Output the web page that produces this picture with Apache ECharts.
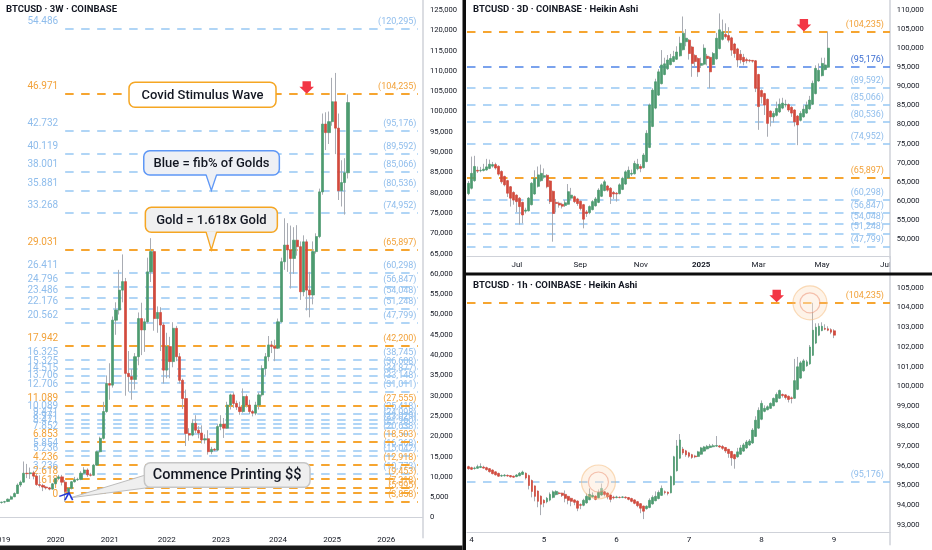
<!DOCTYPE html>
<html><head><meta charset="utf-8">
<script src="https://cdn.jsdelivr.net/npm/echarts@6/dist/echarts.min.js"></script>
<style>html,body{margin:0;padding:0;background:#fff}#c{width:932px;height:550px}</style>
</head><body><div id="c"></div>
<script>
// ---------- LEFT: BTCUSD 3W (open, close, low, high) ----------
const leftCandles = [
[3700,3800,3400,3900],[3800,3900,3500,4100],[3950,4500,3800,4700],[4500,5100,4400,5400],[5100,5900,5000,6200],
[5900,8000,5800,8400],[8000,8700,7500,9100],[8700,10900,8600,13800],[10900,10800,9700,13200],[10800,11000,9500,12300],
[11000,10200,9400,11500],[10200,8100,7800,10800],[8100,7900,7400,10400],[7900,7500,6500,8300],[7500,7300,6900,7700],
[7300,7000,6700,7500],[7000,8300,6900,8500],[8300,9600,8200,9800],[9600,10000,9200,10500],[10000,8700,7900,10500],
[8700,6400,3858,9200],[6400,7200,6200,7500],[7200,8800,6900,9000],[8800,9300,8600,10000],[9300,9400,9000,9800],
[9400,10900,9200,11400],[10900,11700,10600,12400],[11700,10500,10000,12100],[10500,10400,10100,11000],[10400,12900,10300,13200],
[12900,16200,12700,16500],[16200,19500,16000,19900],[19500,26100,19200,28500],[26100,33000,25800,35000],[33000,32600,29000,38000],
[32600,48600,32000,49500],[48600,51100,45000,53000],[51100,56000,50000,61000],[56000,58100,53000,64800],[58100,35500,30000,59000],
[35500,34700,31000,41000],[34700,34000,29000,36500],[34000,39600,31500,40500],[39600,49000,37500,50500],[49000,46200,40000,52900],
[46200,48200,40800,49000],[48200,60500,47800,64000],[60500,65500,58000,68800],[65500,49000,46000,66000],[49000,50500,45500,52000],
[50500,47400,41000,51800],[47400,36300,33000,48000],[36300,42100,34300,45500],[42100,38400,34300,44500],[38400,46600,37000,48100],
[46600,39600,38500,47200],[39600,33800,33000,40500],[33800,29300,26700,34200],[29300,20700,17600,31500],[20700,20300,18900,22000],
[20300,23200,20000,24200],[23200,21500,20800,25200],[21500,20800,19500,22500],[20800,19100,18200,22700],[19100,19400,18200,20500],
[19400,16200,15500,21500],[16200,16800,15600,17400],[16800,16600,16300,17100],[16600,22400,16400,23000],[22400,23000,21500,25200],
[23000,22000,19600,24500],[22000,27700,21800,28500],[27700,30200,26600,30500],[30200,28100,27000,30800],[28100,27200,26500,28800],
[27200,26100,25300,28500],[26100,29800,25800,31800],[29800,27700,27100,30300],[27700,26100,25500,29000],[26100,25700,24900,26500],
[25700,27700,25200,28500],[27700,30200,26600,30800],[30200,36700,29800,37500],[36700,39600,35000,40500],[39600,42500,38500,44700],
[42500,42100,40500,43500],[42100,41700,38500,43800],[41700,48200,41500,49000],[48200,63000,48000,64000],[63000,67100,61000,73700],
[67100,65900,60500,72500],[65900,63800,56400,71900],[63800,68300,60000,71500],[68300,66700,64500,72000],[66700,55600,53600,68000],
[55600,67900,54500,69500],[67900,56000,51000,68500],[56000,54800,49300,60500],[54800,65500,52500,68000],[65500,69200,65000,70000],
[69200,80200,68800,81000],[80200,96900,79500,99500],[96900,94800,90500,99800],[94800,97500,92000,100000],[97500,102400,96500,108300],
[102400,95900,89500,109500],[95900,80500,78200,99500],[80500,82500,76600,88000],[82500,84900,74600,88500],[84900,102200,83500,104200]
];
const leftSlots = 133;
const leftTickIdx = [0,17,34,52,69,87,104,121];
const leftTickText = ['2019','2020','2021','2022','2023','2024','2025','2026'];
const leftGoldRatios = ['0','1','1.618','2.618','4.236','6.853','11.089','17.942','29.031','46.971'];
const leftGoldPrices = [3858,5995,7318,9453,12918,18503,27555,42200,65897,104235];
const leftBlueRatios = ['3.236','5.236','5.854','7.852','8.471','8.971','9.471','10.089','12.706','13.706','14.515','15.325','16.325','20.562','22.176','23.486','24.796','26.411','33.268','35.881','38.001','40.119','42.732','54.486'];
const leftBluePrices = [10773,15042,16368,20638,21960,23029,24098,25418,31011,33148,34877,36608,38745,47799,51248,54048,56847,60298,74952,80536,85066,89592,95176,120295];

// ---------- TOP RIGHT: BTCUSD 3D Heikin Ashi ----------
const trCandles = [
[61900,64600,61500,65200],[63300,67200,63000,71600],[65300,69000,65000,71800],[68000,67800,67300,69000],[67900,68000,67500,68900],
[67950,68300,67700,69700],[68100,68900,67900,71000],[68500,69600,68300,70800],[69100,69500,68700,70200],[69500,68600,68200,70000],
[69050,67000,66600,69300],[67700,65000,64500,68000],[66400,64200,63800,66600],[65300,62000,61000,65500],[63700,60700,58500,63900],
[62200,60200,59000,62500],[61500,59800,57000,61700],[60700,58500,53800,61000],[59600,56300,54100,59800],[57300,57600,56700,58200],
[57400,60700,57200,61000],[59000,64600,58800,64900],[61800,65900,61600,68000],[63800,66800,63500,69000],[65300,67200,65000,69500],
[66200,66600,65800,68500],[66700,63700,63300,67000],[65200,59800,59200,65400],[62500,56700,49300,62700],[59600,59300,57000,60500],
[59400,58900,58200,59800],[59100,58600,58000,59500],[58800,59500,58400,60200],[59100,62400,59000,64400],[60700,61500,60200,63400],
[61100,59800,59400,61400],[60500,59300,58700,60800],[59900,58000,57500,60100],[59000,55200,52800,59200],[57100,56700,55800,57600],
[56900,58500,56500,58800],[57700,59800,57500,60200],[58700,60500,58500,61000],[59600,62800,59400,63300],[61200,64200,61000,64600],
[62700,65000,62500,65500],[63900,62800,62400,64200],[63300,61100,59200,63600],[62200,61800,60500,62600],[62000,61800,59800,62300],
[61900,64200,61700,64600],[63000,65900,62800,66300],[64400,67600,64200,68000],[66000,68000,65800,69000],[67000,67200,66500,68200],
[67100,69800,66900,70500],[68400,69600,68000,71000],[69000,68500,67500,69600],[68700,72000,68500,72500],[70300,77700,70100,78500],
[74000,85100,73800,85500],[79500,89000,79300,89500],[84300,91200,84000,92000],[87700,93800,87500,94500],[90700,95600,90500,99500],
[93100,95900,92900,97500],[94600,96900,94300,98200],[95700,97300,95500,98500],[96500,97800,96300,99300],[97100,99000,96900,100500],
[98000,101300,97800,103000],[99600,103900,99400,108300],[101700,102600,100500,105000],[102100,98600,97000,102400],[100300,96000,92500,100600],
[98100,96500,95000,98400],[97300,93800,92500,97600],[95500,96000,94800,97500],[95800,100000,95500,101000],[97900,97300,95500,98500],
[97600,93800,89500,97900],[95700,98600,95500,99000],[97200,102600,97000,104000],[99900,104800,99700,109100],[102300,104300,102000,107500],
[103600,103000,102500,106500],[103300,102100,101500,105500],[102700,99500,98000,103000],[101100,98600,97500,101400],[99800,96900,95000,100100],
[98400,96900,96000,99500],[97600,96500,95500,98500],[97000,96700,96000,97500],[96850,96700,96300,97100],[96800,96600,96200,96900],
[96700,89500,88500,96900],[93100,84700,78600,93300],[88900,87300,85500,89200],[88100,85100,82500,88300],[86600,80300,76800,86800],
[83500,82000,79500,83700],[82000,82900,80500,83500],[82400,84200,82100,86000],[83300,85300,83000,86800],[84300,85600,84000,87000],
[85100,85300,84500,86500],[85200,83800,83300,85500],[84500,83000,82000,84800],[83800,80700,79500,84000],[82200,79900,74600,82500],
[81100,82900,80800,83500],[82000,84000,81800,85000],[83000,85100,82800,86000],[84100,86400,83900,87500],[85300,90800,85100,91500],
[88100,94700,87900,95500],[91400,94200,91200,96000],[92800,96000,92600,97500],[94400,95600,94200,97500],[95000,100000,94800,104300]
];
const trSlots = 140;
const trTickIdx = [16,37,57,77,96,117,138];
const trTickText = ['Jul','Sep','Nov','2025','Mar','May','Jul'];
const trGoldPrices = [104235,65897];
const trKeyPrices = [95176];
const trBluePrices = [89592,85066,80536,74952,60298,56847,54048,51248,47799];

// ---------- BOTTOM RIGHT: BTCUSD 1h Heikin Ashi ----------
const brCandles = [
[95950,95850,95800,96000],[95900,95820,95780,95950],[95860,95880,95800,95950],[95870,95950,95850,96050],[95910,95960,95880,96120],
[95930,95880,95850,96000],[95900,95800,95750,95950],[95850,95700,95650,95880],[95780,95600,95560,95820],[95690,95540,95500,95720],
[95610,95470,95440,95650],[95480,95500,95430,95560],[95490,95520,95450,95580],[95510,95480,95440,95560],[95500,95440,95400,95530],
[95470,95420,95380,95500],[95450,95530,95420,95580],[95490,95620,95470,95680],[95560,95680,95540,95750],[95620,95380,95300,95660],
[95500,95000,94800,95550],[95250,94700,94400,95300],[94980,94450,94200,95000],[94720,94200,93900,94750],[94460,94050,93500,94500],
[94250,94120,93900,94300],[94180,94350,94100,94420],[94260,94550,94200,94650],[94400,94680,94350,94750],[94540,94700,94500,94760],
[94620,94600,94550,94680],[94610,94500,94420,94640],[94550,94350,94150,94750],[94450,94250,94050,94480],[94350,94200,93950,94380],
[94270,94150,94000,94300],[94210,93850,93700,94250],[94030,94000,93800,94100],[94000,94250,93950,94330],[94120,94450,94080,94600],
[94280,94550,94250,94850],[94420,94500,94380,94650],[94460,94300,94250,94500],[94380,94650,94350,94800],[94520,94850,94480,95100],
[94680,94550,94450,94720],[94620,94420,94300,94650],[94520,94300,94150,94550],[94410,94380,94300,94480],[94390,94420,94350,94480],
[94400,94390,94350,94450],[94400,94420,94360,94460],[94410,94380,94330,94450],[94390,94300,94250,94420],[94340,94200,94150,94380],
[94270,94100,94050,94300],[94180,93980,93900,94220],[94080,93850,93600,94100],[93960,93700,93300,93980],[93830,93950,93780,94000],
[93890,94250,93850,94350],[94070,94400,94030,94500],[94230,94450,94200,94700],[94340,94650,94300,94750],[94500,94850,94480,95000],
[94680,94650,94550,94750],[94660,94600,94500,94700],[94630,95450,94600,95500],[95040,96450,95000,96500],[95750,97000,95700,97300],
[96380,97300,96350,97600],[96840,96650,96550,96950],[96750,96550,96450,96800],[96650,96480,96400,96700],[96560,96420,96350,96600],
[96490,96450,96380,96550],[96470,96700,96440,96750],[96580,96900,96550,96950],[96740,96950,96700,97000],[96850,96980,96820,97050],
[96920,97000,96880,97100],[96960,97010,96930,97100],[96990,97020,96950,97500],[97000,96950,96900,97050],[96970,96880,96800,97050],
[96920,96750,96650,96950],[96830,96620,96400,96850],[96720,96400,96000,96750],[96560,96350,95850,96600],[96450,96700,96400,96900],
[96580,96900,96550,97050],[96740,97050,96700,97150],[96900,97200,96850,97300],[97050,97250,97000,97350],[97150,97800,97100,97900],
[97480,98300,97450,98500],[97900,98800,97850,98950],[98350,99150,98300,99300],[98750,98900,98700,99050],[98830,98980,98800,99050],
[98900,99150,98880,99200],[99030,99400,99000,99450],[99220,99600,99200,99700],[99410,99800,99380,99850],[99600,99550,99450,99650],
[99580,99450,99350,99620],[99510,99350,99200,99550],[99430,99400,99150,99500],[99410,100300,99380,101400],[99860,101000,99820,101500],
[100430,101200,100400,101300],[100800,101300,100750,101400],[101050,101250,101000,101350],[101150,102000,101100,102100],[101580,102850,101550,104235],
[102200,103000,102150,103200],[102600,103050,102550,103200],[102830,103050,102800,103250],[102940,102900,102850,103150],[102920,102850,102800,103050],
[102880,102750,102650,102950],[102820,102600,102450,102900]
];
const brSlots = 140;
const brTickIdx = [1,25,49,73,97,121];
const brTickText = ['4','5','6','7','8','9'];
const brGoldPrices = [104235];
const brBluePrices = [95176];

// annotation anchors (category index, price)
const fibStartIdx = 20, fibEndIdx = 131;
const notes = {
  covid: {text: 'Covid Stimulus Wave', at: [63, 104235]},
  blue: {text: 'Blue = fib% of Golds', at: [66, 80536]},
  gold: {text: 'Gold = 1.618x Gold', at: [66, 65897]},
  printing: {text: 'Commence Printing $$', at: [21, 3858]}
};
const startMark = [20, 3858];
const arrows = [[0, 96, 104235], [1, 111, 104235], [2, 102, 104235]];
const circles = [[2, 113, 104235], [2, 43, 95176]];

// ---------- styles ----------
const UP = '#4e9b70', DOWN = '#d24a3d', WICK = '#a9acb3';
const GOLD_LINE = '#f6a530', GOLD_TEXT = '#f2a23a';
const BLUE_LINE = '#97c7f3', BLUE_TEXT = '#8fbdec';
const KEY_LINE = '#4f84e8', KEY_TEXT = '#3d6fd2';
const AXIS_TEXT = '#131722', AXIS_LINE = '#cfd2d9';
const FONT = 'Roboto';
const fmt = v => v.toLocaleString('en-US');

function cats(n) { return Array.from({length: n}, (_, i) => String(i)); }

function candleSeries(gi, data, bodyW) {
  return [
    {type: 'candlestick', xAxisIndex: gi, yAxisIndex: gi, data: data, barWidth: 1, silent: true, z: 3,
     itemStyle: {color: WICK, color0: WICK, borderColor: WICK, borderColor0: WICK, borderWidth: 1}},
    {type: 'candlestick', xAxisIndex: gi, yAxisIndex: gi, silent: true, z: 4, barWidth: bodyW,
     data: data.map(d => [d[0], d[1], Math.min(d[0], d[1]), Math.max(d[0], d[1])]),
     itemStyle: {color: UP, color0: DOWN, borderColor: UP, borderColor0: DOWN, borderWidth: 0.7}}
  ];
}

function fibSeries(gi, prices, ratios, lineColor, textColor, lw, startIdx, endIdx, rightPad) {
  return {
    type: 'custom', xAxisIndex: gi, yAxisIndex: gi, z: 1, silent: true,
    data: prices.map(p => [startIdx == null ? 0 : startIdx, p]),
    encode: {x: 0, y: 1},
    renderItem: function (params, api) {
      const price = api.value(1);
      const cs = params.coordSys;
      const y = Math.round(api.coord([0, price])[1]);
      const x1 = startIdx == null ? cs.x : api.coord([startIdx, price])[0];
      const x2 = endIdx == null ? cs.x + cs.width : api.coord([endIdx, price])[0];
      const ch = [{type: 'line', shape: {x1: x1, y1: y, x2: x2, y2: y},
                   style: {stroke: lineColor, lineWidth: lw, lineDash: [8.5, 7.5]}},
                  {type: 'text', x: x2 - rightPad, y: y - 3,
                   style: {text: '(' + fmt(price) + ')', fill: textColor, font: '9px ' + FONT, align: 'right', verticalAlign: 'bottom'}}];
      if (ratios) ch.push({type: 'text', x: x1 - 7, y: y - 3,
                   style: {text: ratios[params.dataIndex], fill: textColor, font: '10px ' + FONT, align: 'right', verticalAlign: 'bottom'}});
      return {type: 'group', children: ch};
    }
  };
}

function xAxisCfg(gi, n, tickIdx, tickText, offset, margin) {
  return {
    type: 'category', gridIndex: gi, data: cats(n), boundaryGap: true, offset: offset,
    axisLine: {show: true, lineStyle: {color: AXIS_LINE, width: 1}},
    axisTick: {show: false}, splitLine: {show: false},
    axisLabel: {
      interval: (i) => tickIdx.indexOf(i) >= 0,
      formatter: (v, i) => { const t = tickText[tickIdx.indexOf(i)] || ''; return /^\d{4}$/.test(t) && gi === 1 ? '{b|' + t + '}' : t; },
      color: AXIS_TEXT, fontSize: 8, margin: margin, fontFamily: FONT,
      rich: {b: {fontWeight: 'bold', fontSize: 8, color: AXIS_TEXT, fontFamily: FONT}}
    }
  };
}

function yAxisCfg(gi, min, max, step, lo, hi, margin) {
  return {
    type: 'value', gridIndex: gi, position: 'right', min: min, max: max, interval: step,
    axisLine: {show: true, lineStyle: {color: AXIS_LINE, width: 1.5}},
    axisTick: {show: false}, splitLine: {show: false},
    axisLabel: {formatter: v => (v >= lo && v <= hi) ? fmt(v) : '', color: AXIS_TEXT, fontSize: 7.6, margin: margin, fontFamily: FONT}
  };
}

const chart = echarts.init(document.getElementById('c'), null, {renderer: 'canvas'});
const option = {
  animation: false,
  backgroundColor: '#ffffff',
  textStyle: {fontFamily: FONT},
  grid: [
    {left: 0, top: -10.3, width: 422.7, height: 548.1, containLabel: false, outerBoundsMode: 'none'},
    {left: 467, top: -9.085, width: 423, height: 267.2, containLabel: false, outerBoundsMode: 'none'},
    {left: 467, top: 267.92, width: 423, height: 276.9, containLabel: false, outerBoundsMode: 'none'}
  ],
  xAxis: [
    xAxisCfg(0, leftSlots, leftTickIdx, leftTickText, -6.8, 5),
    xAxisCfg(1, trSlots, trTickIdx, trTickText, -1.4, 4),
    xAxisCfg(2, brSlots, brTickIdx, brTickText, -12.5, 4)
  ],
  yAxis: [
    yAxisCfg(0, -5000, 130000, 5000, 0, 125000, 7.3),
    yAxisCfg(1, 45000, 115000, 5000, 50000, 110000, 6.7),
    yAxisCfg(2, 92000, 106000, 1000, 93000, 105000, 6.7)
  ],
  series: [].concat(
    fibSeries(0, leftBluePrices, leftBlueRatios, BLUE_LINE, BLUE_TEXT, 1.5, fibStartIdx, fibEndIdx, 1.5),
    fibSeries(0, leftGoldPrices, leftGoldRatios, GOLD_LINE, GOLD_TEXT, 2, fibStartIdx, fibEndIdx, 1.5),
    candleSeries(0, leftCandles, 2.7),
    fibSeries(1, trBluePrices, null, BLUE_LINE, BLUE_TEXT, 1.5, null, null, 6),
    fibSeries(1, trKeyPrices, null, KEY_LINE, KEY_TEXT, 1.5, null, null, 6),
    fibSeries(1, trGoldPrices, null, GOLD_LINE, GOLD_TEXT, 2, null, null, 6),
    candleSeries(1, trCandles, 2.5),
    fibSeries(2, brBluePrices, null, BLUE_LINE, BLUE_TEXT, 1.5, null, null, 6),
    fibSeries(2, brGoldPrices, null, GOLD_LINE, GOLD_TEXT, 2, null, null, 6),
    candleSeries(2, brCandles, 2.3)
  )
};
chart.setOption(option);

// ---------- annotations anchored to data coordinates ----------
const px = (gi, c, p) => chart.convertToPixel({gridIndex: gi}, [c, p]);
const G = [];
function box(x, y, w, h, fill, stroke, text, fs) {
  G.push({type: 'rect', z: 50, shape: {x: x, y: y, width: w, height: h, r: 6}, style: {fill: fill, stroke: stroke, lineWidth: 1.5}});
  G.push({type: 'text', z: 52, x: x + w / 2, y: y + h / 2 + 0.5,
          style: {text: text, fill: '#131722', font: '500 ' + fs + 'px ' + FONT, align: 'center', verticalAlign: 'middle'}});
}
function tailDown(tx, ty, baseY, fill, stroke) {
  G.push({type: 'polygon', z: 51, shape: {points: [[tx - 5.3, baseY - 1], [tx, ty], [tx + 5.3, baseY - 1]]}, style: {fill: fill, stroke: 'none'}});
  G.push({type: 'polyline', z: 51, shape: {points: [[tx - 5.3, baseY - 0.2], [tx, ty], [tx + 5.3, baseY - 0.2]]}, style: {stroke: stroke, lineWidth: 1.3, fill: null}});
}
// Covid
let a = px(0, notes.covid.at[0], notes.covid.at[1]);
box(a[0] - 72.8, a[1] - 12, 147, 25, '#ffffff', '#f5a623', notes.covid.text, 13);
// Blue
a = px(0, notes.blue.at[0], notes.blue.at[1]);
box(a[0] - 67.6, a[1] - 39.8, 135.6, 24.3, '#eef0f5', '#5e97f6', notes.blue.text, 13);
tailDown(a[0], a[1], a[1] - 15.5, '#eef0f5', '#5e97f6');
// Gold
a = px(0, notes.gold.at[0], notes.gold.at[1]);
box(a[0] - 66, a[1] - 42.7, 132, 25, '#f0f0f0', '#f5a623', notes.gold.text, 13);
tailDown(a[0], a[1], a[1] - 17.7, '#f0f0f0', '#f5a623');
// Commence printing
a = px(0, notes.printing.at[0], notes.printing.at[1]);
const bx = a[0] + 76, by = a[1] - 39.1, bw = 165.7, bh = 24.6;
G.push({type: 'polygon', z: 49, shape: {points: [[bx + 2, by + 12], [a[0] + 2, a[1] - 4], [bx + 14, by + bh - 1]]},
        style: {fill: '#efefef', stroke: '#bdbdbd', lineWidth: 1}});
box(bx, by, bw, bh, '#efefef', '#c6c6c6', notes.printing.text, 14.5);
// start mark (blue chevron)
a = px(0, startMark[0], startMark[1]);
G.push({type: 'polyline', z: 53, shape: {points: [[a[0] - 0.2, a[1] - 1.8], [a[0] + 3.8, a[1] - 9.1], [a[0] + 7.5, a[1] - 1.8]]}, style: {stroke: '#1f35d6', lineWidth: 1.6, fill: null}});
G.push({type: 'polyline', z: 53, shape: {points: [[a[0] - 5.9, a[1] - 5.5], [a[0] + 3.1, a[1] - 8.6]]}, style: {stroke: '#1f35d6', lineWidth: 1.4, fill: null}});
// red arrows
arrows.forEach(function (r) {
  const t = px(r[0], r[1], r[2]);
  const tx = t[0], ty = t[1] - 0.5;
  G.push({type: 'polygon', z: 55, shape: {points: [[tx - 4.2, ty - 12.5], [tx + 4.2, ty - 12.5], [tx + 4.2, ty - 7], [tx + 7.3, ty - 7], [tx, ty], [tx - 7.3, ty - 7], [tx - 4.2, ty - 7]]},
          style: {fill: '#f23645'}});
});
// highlight circles
circles.forEach(function (c) {
  const t = px(c[0], c[1], c[2]);
  G.push({type: 'circle', z: 45, shape: {cx: t[0], cy: t[1], r: 17}, style: {fill: 'rgba(250,200,150,0.22)', stroke: 'rgba(245,185,120,0.5)', lineWidth: 1.2}});
  G.push({type: 'circle', z: 46, shape: {cx: t[0], cy: t[1], r: 10}, style: {fill: 'rgba(255,248,242,0.3)', stroke: 'rgba(236,140,110,0.5)', lineWidth: 1.1}});
});
// titles
G.push({type: 'text', z: 60, x: 6, y: 10, style: {text: 'BTCUSD · 3W · COINBASE', fill: '#131722', font: 'bold 9.5px ' + FONT, verticalAlign: 'middle'}});
G.push({type: 'text', z: 60, x: 473, y: 10, style: {text: 'BTCUSD · 3D · COINBASE · Heikin Ashi', fill: '#131722', font: 'bold 9.5px ' + FONT, verticalAlign: 'middle'}});
G.push({type: 'text', z: 60, x: 473, y: 286, style: {text: 'BTCUSD · 1h · COINBASE · Heikin Ashi', fill: '#131722', font: 'bold 9.5px ' + FONT, verticalAlign: 'middle'}});
// price-scale border continuation through the time-scale strip of the top-right pane
G.push({type: 'line', z: 40, shape: {x1: 890.25, y1: 256, x2: 890.25, y2: 273}, style: {stroke: AXIS_LINE, lineWidth: 1.5}});
// panel separators
G.push({type: 'rect', z: 70, shape: {x: 462.5, y: 0, width: 3.5, height: 550}, style: {fill: '#0d0d0d'}});
G.push({type: 'rect', z: 70, shape: {x: 466, y: 272.5, width: 466, height: 3}, style: {fill: '#0d0d0d'}});
G.push({type: 'rect', z: 70, shape: {x: 0, y: 545.5, width: 462.5, height: 4.5}, style: {fill: '#1a1a1a'}});
chart.setOption({graphic: G});
</script></body></html>
